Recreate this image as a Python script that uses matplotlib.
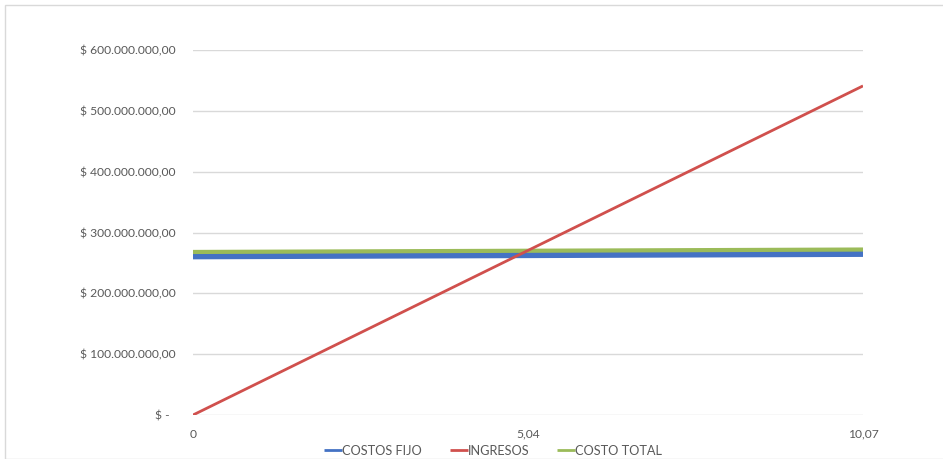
import matplotlib
matplotlib.use("Agg")
import matplotlib.pyplot as plt
from matplotlib.patches import Rectangle
from matplotlib.ticker import FuncFormatter, FixedLocator

categories = ["0", "5,04", "10,07"]
costos_fijo = [261e6, 263e6, 265e6]
ingresos = [0, 270.5e6, 541e6]
costo_total = [268e6, 270e6, 272e6]

plt.rcParams['font.family'] = ['Lato', 'DejaVu Sans']

W, H = 943, 459
fig = plt.figure(figsize=(W / 100, H / 100), dpi=100)
fig.patches.append(Rectangle((5 / W, 0), 1.0, 1 - 5 / H, transform=fig.transFigure,
                             fill=False, edgecolor='#d9d9d9', linewidth=1.0))

ax = fig.add_axes([193 / W, 1 - 415 / H, (863 - 193) / W, (415 - 50) / H])
x = list(range(len(categories)))

ax.plot(x, costos_fijo, color='#4472c4', linewidth=4.5, label='COSTOS FIJO', zorder=3, solid_capstyle='butt')
ax.plot(x, ingresos, color='#d0504d', linewidth=2.0, label='INGRESOS', zorder=4, solid_capstyle='butt')
ax.plot(x, costo_total, color='#9bbb59', linewidth=3.0, label='COSTO TOTAL', zorder=3, solid_capstyle='butt')

ax.set_xlim(0, len(categories) - 1)
ax.set_ylim(0, 600e6)
ax.yaxis.set_major_locator(FixedLocator([i * 100e6 for i in range(7)]))

def fmt(v, pos):
    if abs(v) < 1:
        return "$ -  "
    s = f"{v:,.2f}".replace(",", "X").replace(".", ",").replace("X", ".")
    return "$ " + s

ax.yaxis.set_major_formatter(FuncFormatter(fmt))
ax.set_xticks(x)
ax.set_xticklabels(categories)
ax.grid(axis='y', color='#d9d9d9', linewidth=1.0)
ax.set_axisbelow(True)
for s in ax.spines.values():
    s.set_visible(False)
ax.tick_params(axis='both', length=0, labelsize=8.7, colors='#595959')
ax.tick_params(axis='y', pad=12.4)
ax.tick_params(axis='x', pad=10)

leg = ax.legend(loc='upper center', bbox_to_anchor=(0.448, -0.064), ncol=3, frameon=False,
                fontsize=9.2, handlelength=1.4, handletextpad=0.0, columnspacing=2.2,
                borderpad=0)
for t in leg.get_texts():
    t.set_color('#595959')
for l in leg.get_lines():
    l.set_linewidth(2.0)

fig.savefig("out.png", dpi=100)
